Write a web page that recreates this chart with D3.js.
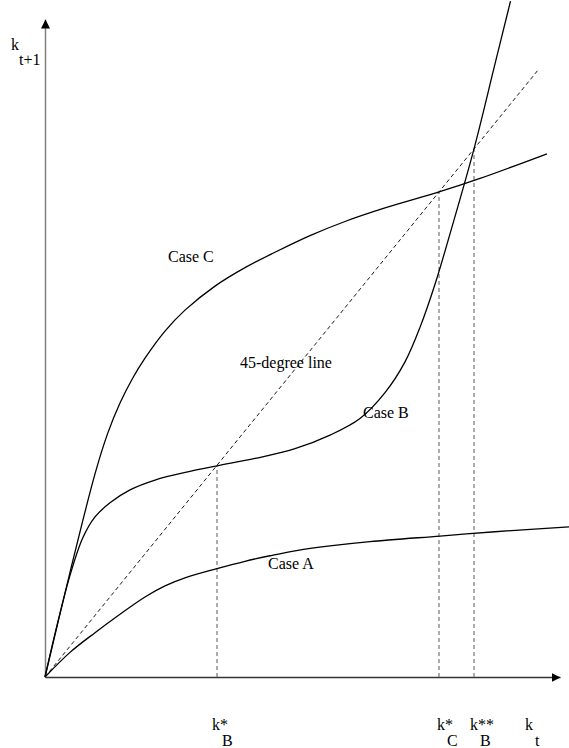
<!DOCTYPE html>
<html>
<head>
<meta charset="utf-8">
<script src="https://cdn.jsdelivr.net/npm/d3@7"></script>
<style>
  html, body { margin: 0; padding: 0; background: #fff; }
  svg { display: block; font-family: "Liberation Serif", "DejaVu Serif", serif; }
</style>
</head>
<body>
<svg id="chart" width="569" height="748"></svg>
<script>
// k_t -> k_{t+1}
const caseA = [
  [0, 0], [0.5, 0.4], [1.0, 0.72], [1.5, 1.02], [2.0, 1.3], [2.4, 1.48],
  [2.8, 1.61], [3.44, 1.76], [4.0, 1.88], [4.5, 1.97], [5.0, 2.05], [5.7, 2.13],
  [6.5, 2.2], [7.9, 2.29], [9.0, 2.36], [10.48, 2.44]
];
const caseB = [
  [0, 0], [0.25, 0.87], [0.5, 1.65], [0.75, 2.25], [1.0, 2.6], [1.3, 2.83],
  [1.7, 3.04], [2.2, 3.2], [2.9, 3.34], [3.44, 3.43], [4.2, 3.55], [5.0, 3.71],
  [5.7, 3.93], [6.3, 4.2], [6.8, 4.62], [7.2, 5.12], [7.5, 5.68], [7.8, 6.38],
  [8.1, 7.2], [8.58, 8.58], [9.0, 9.96], [9.31, 10.98]
];
const caseC = [
  [0, 0], [0.5, 1.7], [1.0, 3.3], [1.25, 3.95], [1.5, 4.45], [1.75, 4.85],
  [2.0, 5.18], [2.4, 5.62], [2.8, 5.96], [3.4, 6.35], [4.0, 6.65], [4.6, 6.9],
  [5.3, 7.17], [6.0, 7.4], [6.8, 7.62], [7.88, 7.88], [8.7, 8.1], [10.04, 8.5]
];
const diagonalEnd = 9.88;

// steady states (where a curve meets the 45-degree line)
const steadyStates = [
  { k: 3.44, main: "k*", sub: "B", dx: -5 },
  { k: 7.88, main: "k*", sub: "C", dx: -2 },
  { k: 8.58, main: "k**", sub: "B", dx: -4 }
];

const x = d3.scaleLinear().domain([0, 10.3]).range([45, 560]);
const y = d3.scaleLinear().domain([0, 10.69]).range([677, 19]);

const svg = d3.select("#chart");

svg.append("defs")
  .append("marker")
  .attr("id", "arrow")
  .attr("viewBox", "0 0 10 10")
  .attr("refX", 10)
  .attr("refY", 5)
  .attr("markerUnits", "userSpaceOnUse")
  .attr("markerWidth", 9)
  .attr("markerHeight", 9)
  .attr("orient", "auto")
  .append("path")
  .attr("d", "M0,0L10,5L0,10Z")
  .attr("fill", "#000");

// axes, no ticks
const xAxis = svg.append("g")
  .attr("transform", `translate(0,${y(0)})`)
  .call(d3.axisBottom(x).tickValues([]).tickSizeOuter(0));
xAxis.select(".domain")
  .attr("stroke", "#333")
  .attr("stroke-width", 1.5)
  .attr("marker-end", "url(#arrow)");

const yAxis = svg.append("g")
  .attr("transform", `translate(${x(0)},0)`)
  .call(d3.axisLeft(y).tickValues([]).tickSizeOuter(0));
yAxis.select(".domain")
  .attr("stroke", "#808080")
  .attr("stroke-width", 1.5)
  .attr("marker-end", "url(#arrow)");

// dashed drop lines at the steady states
svg.append("g")
  .selectAll("line")
  .data(steadyStates)
  .join("line")
  .attr("x1", d => x(d.k))
  .attr("x2", d => x(d.k))
  .attr("y1", y(0))
  .attr("y2", d => y(d.k))
  .attr("stroke", "#808080")
  .attr("stroke-width", 1.3)
  .attr("stroke-dasharray", "4,3");

// 45-degree line
svg.append("line")
  .attr("x1", x(0))
  .attr("y1", y(0))
  .attr("x2", x(diagonalEnd))
  .attr("y2", y(diagonalEnd))
  .attr("stroke", "#000")
  .attr("stroke-width", 0.9)
  .attr("stroke-dasharray", "4,3");

const line = d3.line()
  .x(d => x(d[0]))
  .y(d => y(d[1]))
  .curve(d3.curveCatmullRom.alpha(0.5));

svg.append("g")
  .attr("fill", "none")
  .attr("stroke", "#000")
  .attr("stroke-width", 1.3)
  .selectAll("path")
  .data([caseA, caseB, caseC])
  .join("path")
  .attr("d", line);

// labels
const labels = [
  { text: "Case C", k: 2.46, kn: 6.74 },
  { text: "45-degree line", k: 3.9, kn: 5.02 },
  { text: "Case B", k: 6.36, kn: 4.21 },
  { text: "Case A", k: 4.46, kn: 1.75 }
];
svg.append("g")
  .attr("font-size", 16)
  .selectAll("text")
  .data(labels)
  .join("text")
  .attr("x", d => x(d.k))
  .attr("y", d => y(d.kn))
  .text(d => d.text);

const kLabels = svg.append("g").attr("font-size", 16);
steadyStates.forEach(d => {
  kLabels.append("text")
    .attr("x", x(d.k) + d.dx)
    .attr("y", 730)
    .text(d.main);
  kLabels.append("text")
    .attr("x", x(d.k) + d.dx + 10)
    .attr("y", 746)
    .text(d.sub);
});
kLabels.append("text").attr("x", x(10.3) - 35).attr("y", 730).text("k");
kLabels.append("text").attr("x", x(10.3) - 25).attr("y", 746).text("t");

kLabels.append("text").attr("x", 11).attr("y", 50).text("k");
kLabels.append("text").attr("x", 19).attr("y", 65).text("t+1");
</script>
</body>
</html>
